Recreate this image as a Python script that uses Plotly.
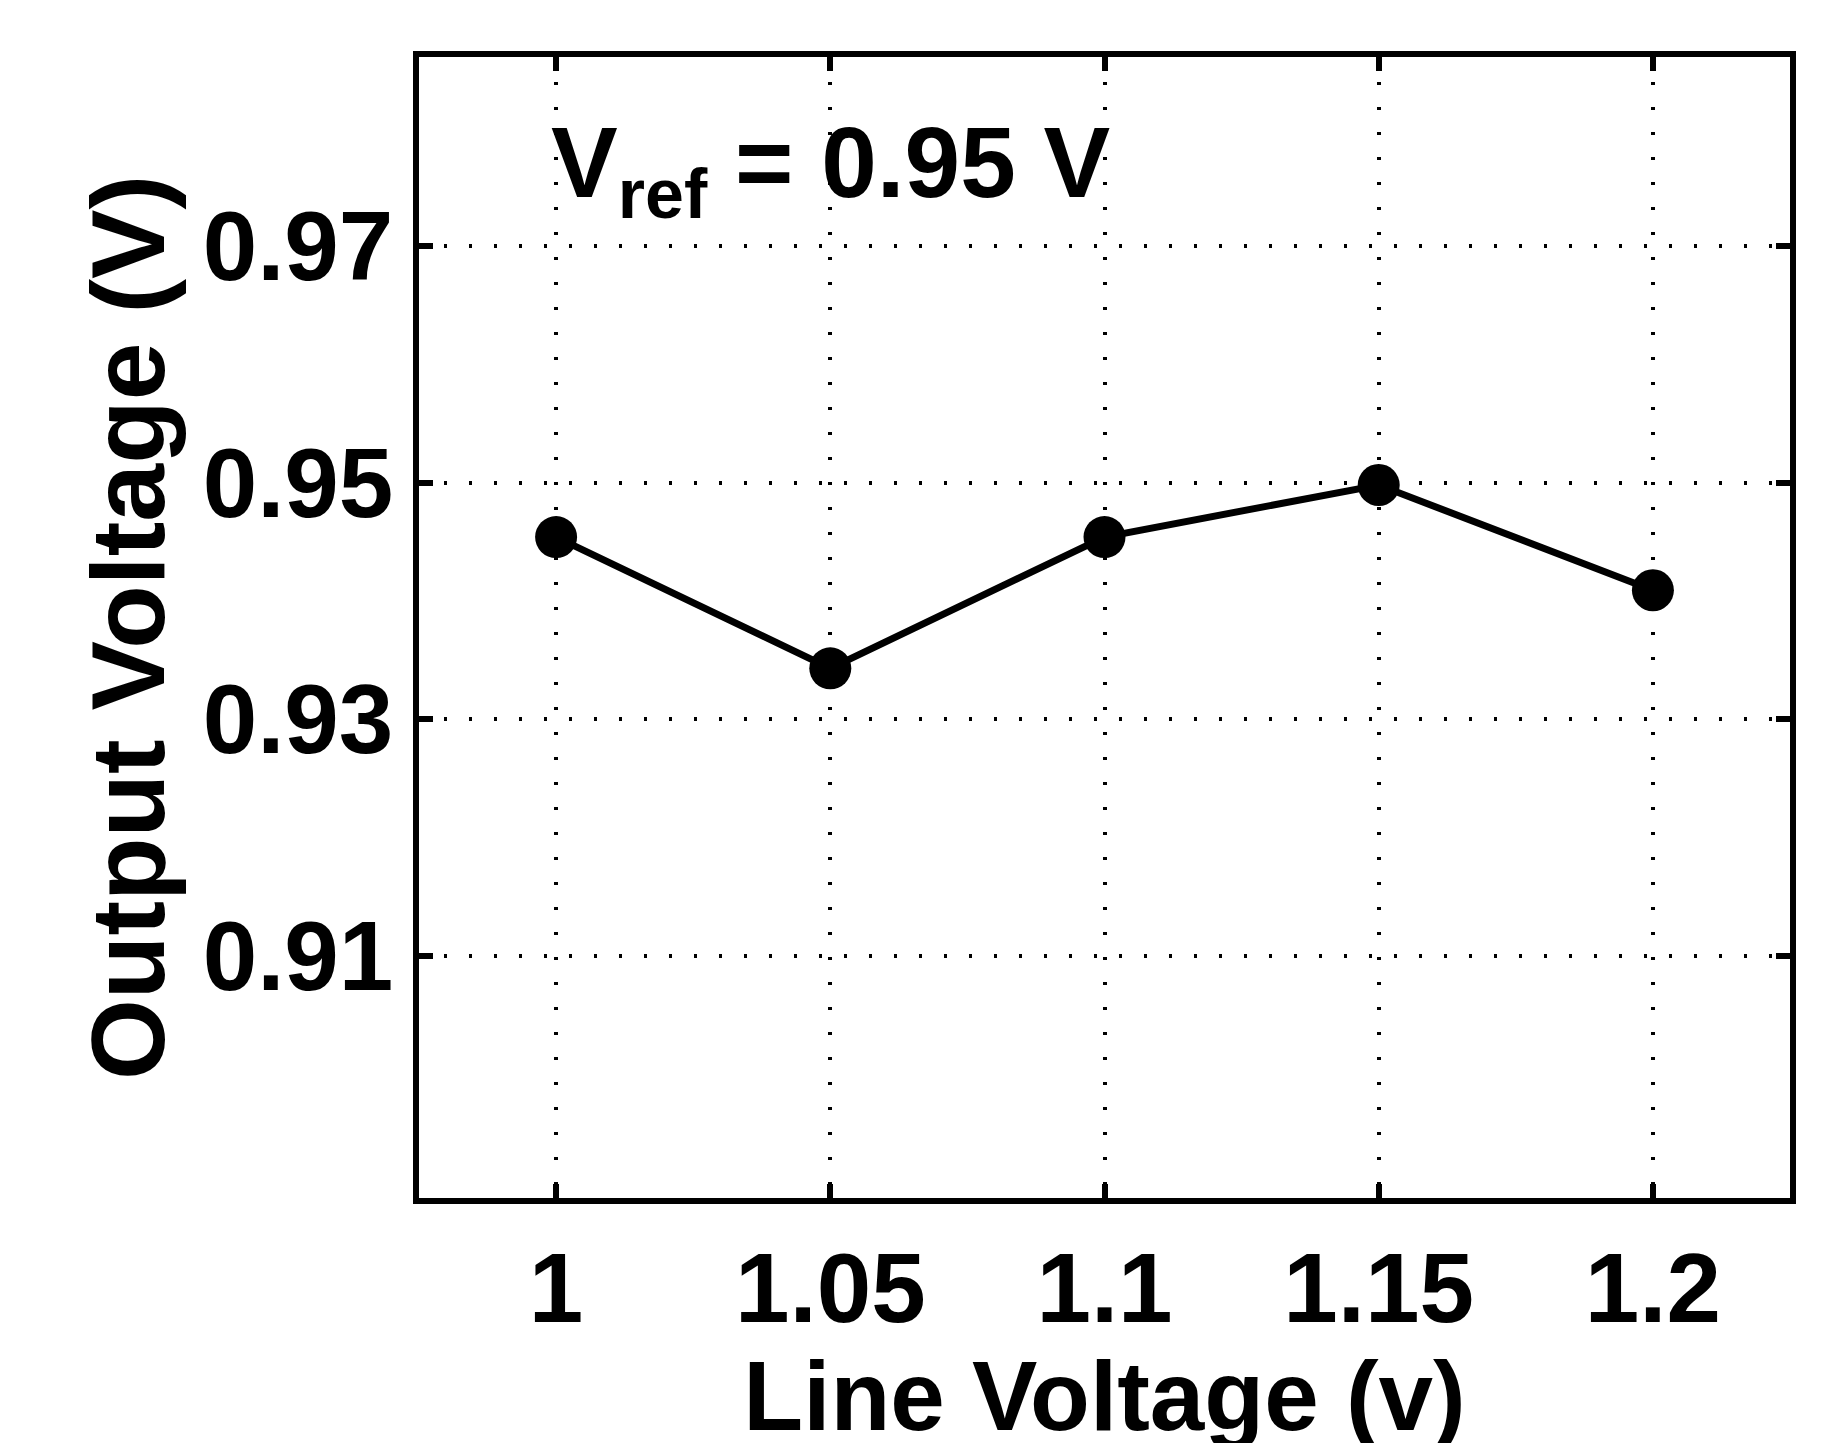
import plotly.graph_objects as go

line_voltage = [1.0, 1.05, 1.1, 1.15, 1.2]
output_voltage = [0.9454, 0.9343, 0.9454, 0.9498, 0.9409]
x_ticks = [1.0, 1.05, 1.1, 1.15, 1.2]
x_labels = ["1", "1.05", "1.1", "1.15", "1.2"]
y_ticks = [0.91, 0.93, 0.95, 0.97]
y_labels = ["0.91", "0.93", "0.95", "0.97"]

F = "Liberation Sans"
fig = go.Figure(go.Scatter(x=line_voltage, y=output_voltage, mode="lines+markers",
    line=dict(color="black", width=7), marker=dict(color="black", size=42)))
ax = dict(showline=True, linecolor="black", linewidth=6, mirror="ticks", ticks="inside",
          ticklen=14, tickwidth=6, tickcolor="black", showgrid=True, gridcolor="black",
          griddash="3px,22px", gridwidth=4, zeroline=False,
          tickfont=dict(family=F, size=98, color="black", weight="bold"))
fig.update_xaxes(**ax, range=[0.975, 1.225], tickvals=x_ticks, ticktext=x_labels,
    title=dict(text="<b>Line Voltage (v)</b>", font=dict(family=F, size=98, color="black"), standoff=5))
fig.update_yaxes(**ax, range=[0.8895, 0.986], tickvals=y_ticks, ticktext=y_labels,
    title=dict(text="<b>Output Voltage (V)</b>", font=dict(family=F, size=104, color="black"), standoff=5))
fig.add_annotation(x=0.0, y=0.982, xref="x domain", yref="y", xanchor="left", yanchor="top", showarrow=False,
    xshift=130, text="<b>V<sub>ref</sub> = 0.95 V</b>", font=dict(family=F, size=100, color="black"))
fig.update_layout(width=1821, height=1443, margin=dict(l=411, r=39, t=49, b=253),
    plot_bgcolor="white", paper_bgcolor="white", showlegend=False)
fig.write_html("out.html")
